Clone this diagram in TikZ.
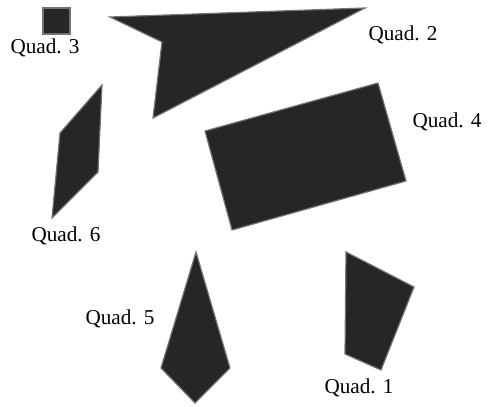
\documentclass[tikz,border=0pt]{standalone}
\usepackage{fontspec}
\setmainfont{Liberation Serif}
\usepackage{tikz}

\begin{document}
\begin{tikzpicture}[x=0.5pt,y=-0.5pt,font=\fontsize{10.6}{12}\selectfont,
  quad/.style={fill=black!85,draw=black!55,line width=0.6pt},
  lbl/.style={inner sep=0pt}]
\useasboundingbox (0,0) rectangle (491,406);
\draw[quad] (43,8) rectangle (70,34);
\draw[quad] (110,17)--(365,8)--(153,118)--(162,42)--cycle;
\draw[quad] (205,131)--(378,83)--(406,181)--(232,230)--cycle;
\draw[quad] (102,85)--(98,172)--(52,218)--(60,133)--cycle;
\draw[quad] (196,252)--(230,368)--(195,403)--(161,368)--cycle;
\draw[quad] (346,252)--(414,287)--(381,370)--(345,354)--cycle;
\node[lbl] (q3) at (45,48) {Quad. 3};
\node[lbl] (q2) at (403,35) {Quad. 2};
\node[lbl] (q4) at (447,122) {Quad. 4};
\node[lbl] (q6) at (66,236) {Quad. 6};
\node[lbl] (q5) at (120,319) {Quad. 5};
\node[lbl] (q1) at (359,388) {Quad. 1};
\end{tikzpicture}
\end{document}
